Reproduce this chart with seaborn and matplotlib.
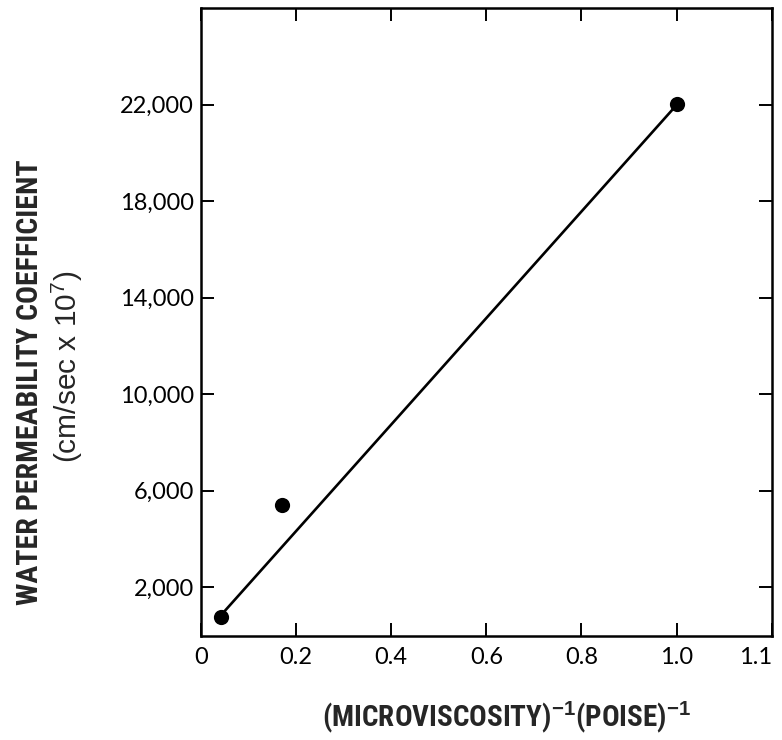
import matplotlib
matplotlib.use("Agg")
import matplotlib.pyplot as plt
import seaborn as sns
import pandas as pd

# Measured points: inverse microviscosity vs water permeability
inv_viscosity = [0.042, 0.17, 1.0]
permeability = [770, 5400, 22050]

# Hand-drawn straight line through the data (end points)
fit_x = [0.042, 1.0]
fit_y = [840, 21990]

x_ticks = [0, 0.2, 0.4, 0.6, 0.8, 1.0, 1.2]
x_tick_labels = ["0", "0.2", "0.4", "0.6", "0.8", "1.0", "1.1"]
y_ticks = [2000, 6000, 10000, 14000, 18000, 22000]
y_tick_labels = ["2,000", "6,000", "10,000", "14,000", "18,000", "22,000"]

sns.set_style("ticks")
plt.rcParams["font.family"] = ["DejaVu Sans"]
plt.rcParams["mathtext.fontset"] = "custom"
plt.rcParams["mathtext.rm"] = "Liberation Sans"
plt.rcParams["mathtext.bf"] = "Liberation Sans:bold"

narrow = ["Roboto Condensed", "Liberation Sans Narrow", "Liberation Sans", "DejaVu Sans"]

df = pd.DataFrame({"x": inv_viscosity, "y": permeability})
fit = pd.DataFrame({"x": fit_x, "y": fit_y})

fig = plt.figure(figsize=(7.82, 7.4), dpi=100)
ax = fig.add_axes([0.257, 0.1412, 0.7298, 0.8476])

sns.lineplot(data=fit, x="x", y="y", ax=ax, color="black", linewidth=1.9)
sns.scatterplot(data=df, x="x", y="y", ax=ax, color="black", s=120,
                edgecolor="black", linewidth=0, zorder=3)

ax.set_xlim(0, 1.2)
ax.set_ylim(0, 26000)
ax.set_xticks(x_ticks, x_tick_labels)
ax.set_yticks(y_ticks, y_tick_labels)
ax.set_xlabel("")
ax.set_ylabel("")

ax.tick_params(direction="in", length=9.5, width=1.4, top=True, right=True,
               labelsize=17, colors="black")
ax.tick_params(axis="x", pad=8)
ax.tick_params(axis="y", pad=5)
for side in ["left", "right", "top", "bottom"]:
    ax.spines[side].set_visible(True)
    ax.spines[side].set_linewidth(1.8)
    ax.spines[side].set_color("black")

for t in ax.get_xticklabels() + ax.get_yticklabels():
    t.set_fontfamily(["Lato", "DejaVu Sans"])
    t.set_fontweight("normal")
    t.set_color("black")
# the last x label sits right on the frame edge
ax.get_xticklabels()[-1].set_horizontalalignment("right")

# Axis titles
fig.text(30 / 782, 1 - 382 / 740, "WATER PERMEABILITY COEFFICIENT",
         rotation=90, ha="center", va="center", fontsize=21.5, fontweight="bold",
         family=narrow)
fig.text(67 / 782, 1 - 367 / 740, r"(cm/sec x 10$^{7}$)",
         rotation=90, ha="center", va="center", fontsize=21.5,
         family=["Liberation Sans", "DejaVu Sans"])
fig.text(507 / 782, 1 - 717 / 740,
         r"(MICROVISCOSITY)$^{\mathbf{-1}}$(POISE)$^{\mathbf{-1}}$",
         ha="center", va="center", fontsize=21, fontweight="bold",
         family=narrow)

fig.savefig("out.png", dpi=100)
